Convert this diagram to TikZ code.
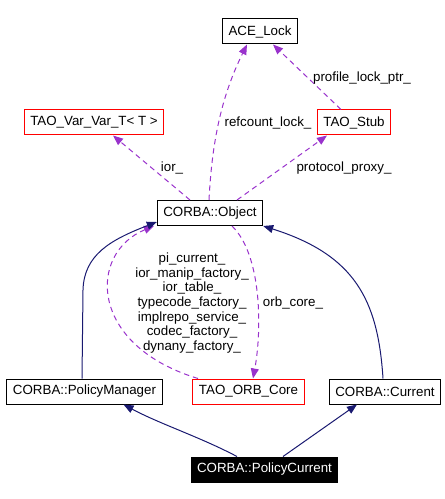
\documentclass[tikz,border=0pt]{standalone}
\usepackage{fontspec}
\setmainfont{Liberation Sans}
\usetikzlibrary{arrows.meta,calc}
\definecolor{inhblue}{RGB}{25,25,112}
\definecolor{usepurple}{RGB}{153,50,204}
\begin{document}
\begin{tikzpicture}[x=0.75pt, y=-0.75pt,
  cls/.style={draw, line width=0.75pt, inner xsep=4.5pt, inner ysep=0pt,
    minimum height=18.75pt, font=\fontsize{10}{11}\selectfont},
  redcls/.style={cls, draw=red},
  curcls/.style={cls, fill=black, text=white},
  inh/.style={inhblue, line width=0.75pt, -{Triangle[length=7.5pt,width=6pt]}},
  usage/.style={usepurple, line width=0.75pt, dash pattern=on 4pt off 3pt,
    -{Triangle[length=7.5pt,width=6pt]}},
  lbl/.style={font=\fontsize{10}{11}\selectfont, inner sep=0pt, align=center}]
\useasboundingbox (0,0) rectangle (444,499);

\node[cls] (ace) at (260,31.5) {ACE\_Lock};
\node[redcls] (tvar) at (94,122.5) {TAO\_Var\_Var\_T< T >};
\node[redcls] (stub) at (354,122.5) {TAO\_Stub};
\node[cls] (obj) at (210,213) {CORBA::Object};
\node[cls] (pm) at (84.5,391.5) {CORBA::PolicyManager};
\node[redcls] (orb) at (248.5,391.5) {TAO\_ORB\_Core};
\node[cls] (cur) at (385,391.5) {CORBA::Current};
\node[curcls] (pcur) at (264.5,469.5) {CORBA::PolicyCurrent};

\draw[usage] ($(obj.north)+(-1,0)$) .. controls (212,140) and (222,95) .. ($(ace.south)+(-13,0)$);
\draw[usage] ($(stub.north)+(-13,0)$) -- ($(ace.south)+(13,0)$);
\draw[usage] ($(obj.north)+(-20,0)$) -- ($(tvar.south)+(19,0)$);
\draw[usage] ($(obj.north)+(27,0)$) -- ($(stub.south)+(-27,0)$);
\draw[usage] ($(obj.south)+(22,0)$) .. controls (262,255) and (262,330) .. ($(orb.north)+(4.5,0)$);
\draw[usage] ($(orb.north)+(-50.5,0)$) .. controls (88,345) and (88,253) .. ($(obj.south)+(-56,0)$);

\node[lbl] (lrefcount) at (268,123) {refcount\_lock\_};
\node[lbl] (lprofile) at (362,78) {profile\_lock\_ptr\_};
\node[lbl] (lior) at (172,168) {ior\_};
\node[lbl] (lproxy) at (344,168) {protocol\_proxy\_};
\node[lbl] (lorb) at (293,303) {orb\_core\_};
\node[lbl] (lorbobj) at (192,303) {pi\_current\_\\ior\_manip\_factory\_\\ior\_table\_\\typecode\_factory\_\\implrepo\_service\_\\codec\_factory\_\\dynany\_factory\_};

\draw[inh] ($(pm.north)+(-2.5,0)$) -- (83,290) .. controls (84,255) and (110,240) .. ($(obj.south west)+(0,-4)$);
\draw[inh] ($(cur.north)+(-2,0)$) .. controls (378,300) and (355,255) .. (obj.south east);
\draw[inh] ($(pcur.north)+(-27.5,0)$) .. controls (200,437) and (160,424) .. ($(pm.south)+(39,0)$);
\draw[inh] ($(pcur.north)+(18.5,0)$) -- ($(cur.south)+(-28,0)$);
\end{tikzpicture}
\end{document}
